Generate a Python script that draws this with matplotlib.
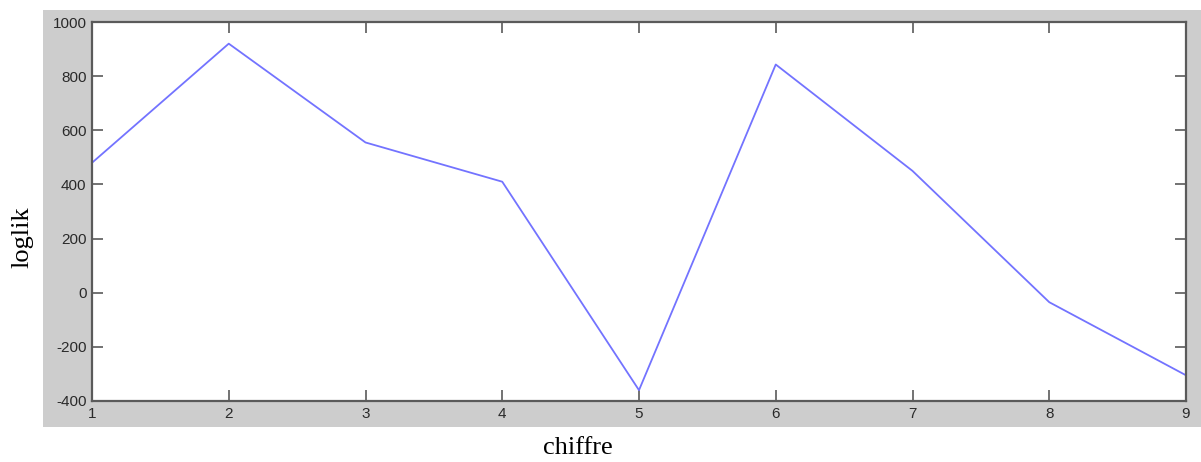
import matplotlib.pyplot as plt
from matplotlib.patches import Rectangle

plt.rcParams['axes.unicode_minus'] = False

chiffre = [1, 2, 3, 4, 5, 6, 7, 8, 9]
loglik = [480, 920, 555, 410, -360, 843, 450, -35, -305]
yticks = [-400, -200, 0, 200, 400, 600, 800, 1000]

fig = plt.figure(figsize=(12.01, 4.62), dpi=100)

# grey matlab-like panel behind the axes
fig.patches.append(Rectangle((43 / 1201, 35 / 462), 1 - 43 / 1201, 417 / 462,
                             transform=fig.transFigure, facecolor='#cdcdcd',
                             edgecolor='none', zorder=-1))

ax = fig.add_axes([92 / 1201, 61 / 462, 1094 / 1201, 379 / 462])
ax.set_zorder(1)
ax.plot(chiffre, loglik, color='#7373ff', linewidth=1.3)

ax.set_xlim(1, 9)
ax.set_ylim(-400, 1000)
ax.set_xticks(chiffre)
ax.set_yticks(yticks)

for s in ax.spines.values():
    s.set_color('#5a5a5a')
    s.set_linewidth(1.6)

ax.tick_params(direction='in', length=8, width=1.2, color='#5a5a5a',
               top=True, right=True, labelsize=11, labelcolor='#2a2a2a',
               pad=4)
for lab in ax.get_xticklabels() + ax.get_yticklabels():
    lab.set_family('Liberation Sans')

fig.text(578 / 1201, 1 - 448 / 462, 'chiffre', family='Liberation Serif',
         fontsize=19, ha='center', va='center')
fig.text(22 / 1201, 1 - 237 / 462, 'loglik', family='Liberation Serif',
         fontsize=19, ha='center', va='center', rotation=90)

fig.savefig('out.png', dpi=100, facecolor='white')
